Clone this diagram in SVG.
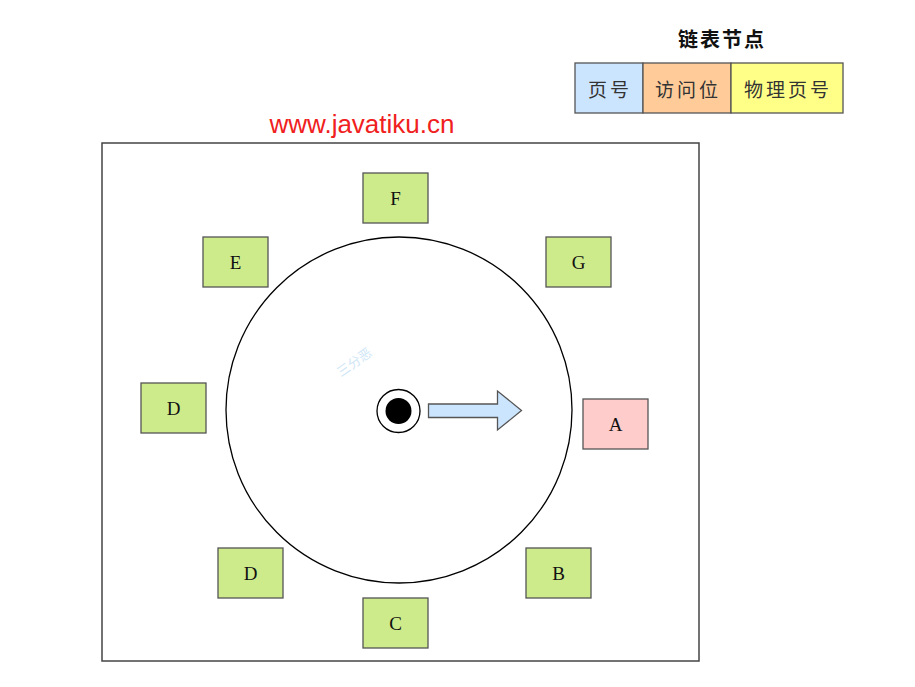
<svg xmlns="http://www.w3.org/2000/svg" width="915" height="687" viewBox="0 0 915 687">
<style>
.node rect{stroke:#555;stroke-width:1.3}
.g{fill:#cdeb8b}
.lbl{font-family:"Liberation Serif","Times New Roman",serif;font-size:19px;fill:#111;text-anchor:middle;dominant-baseline:central}
.cjk{font-family:"Noto Sans CJK SC","Noto Sans",sans-serif;font-size:19px;fill:#333;text-anchor:middle;dominant-baseline:central;letter-spacing:3px}
</style>
<rect x="0" y="0" width="915" height="687" fill="#fff"/>
<text x="362" y="133" font-family="'Liberation Sans',Arial,sans-serif" font-size="26" fill="#f02020" text-anchor="middle">www.javatiku.cn</text>
<g id="legend">
<text x="722" y="38" font-family="'Noto Sans CJK SC',sans-serif" font-size="20" font-weight="bold" fill="#111" text-anchor="middle" dominant-baseline="central" letter-spacing="2">链表节点</text>
<g class="node" id="leg-page"><rect x="575" y="63" width="68" height="50" fill="#cce5ff"/><text class="cjk" x="610" y="88">页号</text></g>
<g class="node" id="leg-access"><rect x="643" y="63" width="88" height="50" fill="#ffcc99"/><text class="cjk" x="688" y="88">访问位</text></g>
<g class="node" id="leg-phys"><rect x="731" y="63" width="112" height="50" fill="#ffff88"/><text class="cjk" x="788" y="88">物理页号</text></g>
</g>
<g id="frame"><rect x="102" y="143" width="597" height="518" fill="none" stroke="#444" stroke-width="1.5"/></g>
<g id="clock">
<circle cx="399" cy="410" r="173" fill="none" stroke="#000" stroke-width="1.3"/>
<circle cx="398.5" cy="411" r="21.5" fill="#fff" stroke="#000" stroke-width="1.3"/>
<circle cx="398.5" cy="411" r="13" fill="#000"/>
</g>
<text x="357" y="366" transform="rotate(-35 357 366)" font-family="'Noto Sans CJK SC',sans-serif" font-size="13" fill="#cfe6f6" text-anchor="middle">三分恶</text>
<g id="connectors">
<polygon points="428.5,404 497.5,404 497.5,391 521.5,410.5 497.5,430 497.5,417.5 428.5,417.5" fill="#cce5ff" stroke="#555" stroke-width="1.3"/>
</g>
<g class="node" id="F"><rect class="g" x="363" y="173" width="65" height="50"/><text class="lbl" x="395.5" y="198">F</text></g>
<g class="node" id="E"><rect class="g" x="203" y="237" width="65" height="50"/><text class="lbl" x="235.5" y="262">E</text></g>
<g class="node" id="G"><rect class="g" x="546" y="237" width="65" height="50"/><text class="lbl" x="578.5" y="262">G</text></g>
<g class="node" id="D1"><rect class="g" x="141" y="383" width="65" height="50"/><text class="lbl" x="173.5" y="408">D</text></g>
<g class="node" id="A"><rect x="583" y="399" width="65" height="50" fill="#ffcccc"/><text class="lbl" x="615.5" y="424">A</text></g>
<g class="node" id="D2"><rect class="g" x="218" y="548" width="65" height="50"/><text class="lbl" x="250.5" y="573">D</text></g>
<g class="node" id="B"><rect class="g" x="526" y="548" width="65" height="50"/><text class="lbl" x="558.5" y="573">B</text></g>
<g class="node" id="C"><rect class="g" x="363" y="598" width="65" height="50"/><text class="lbl" x="395.5" y="623">C</text></g>
</svg>
